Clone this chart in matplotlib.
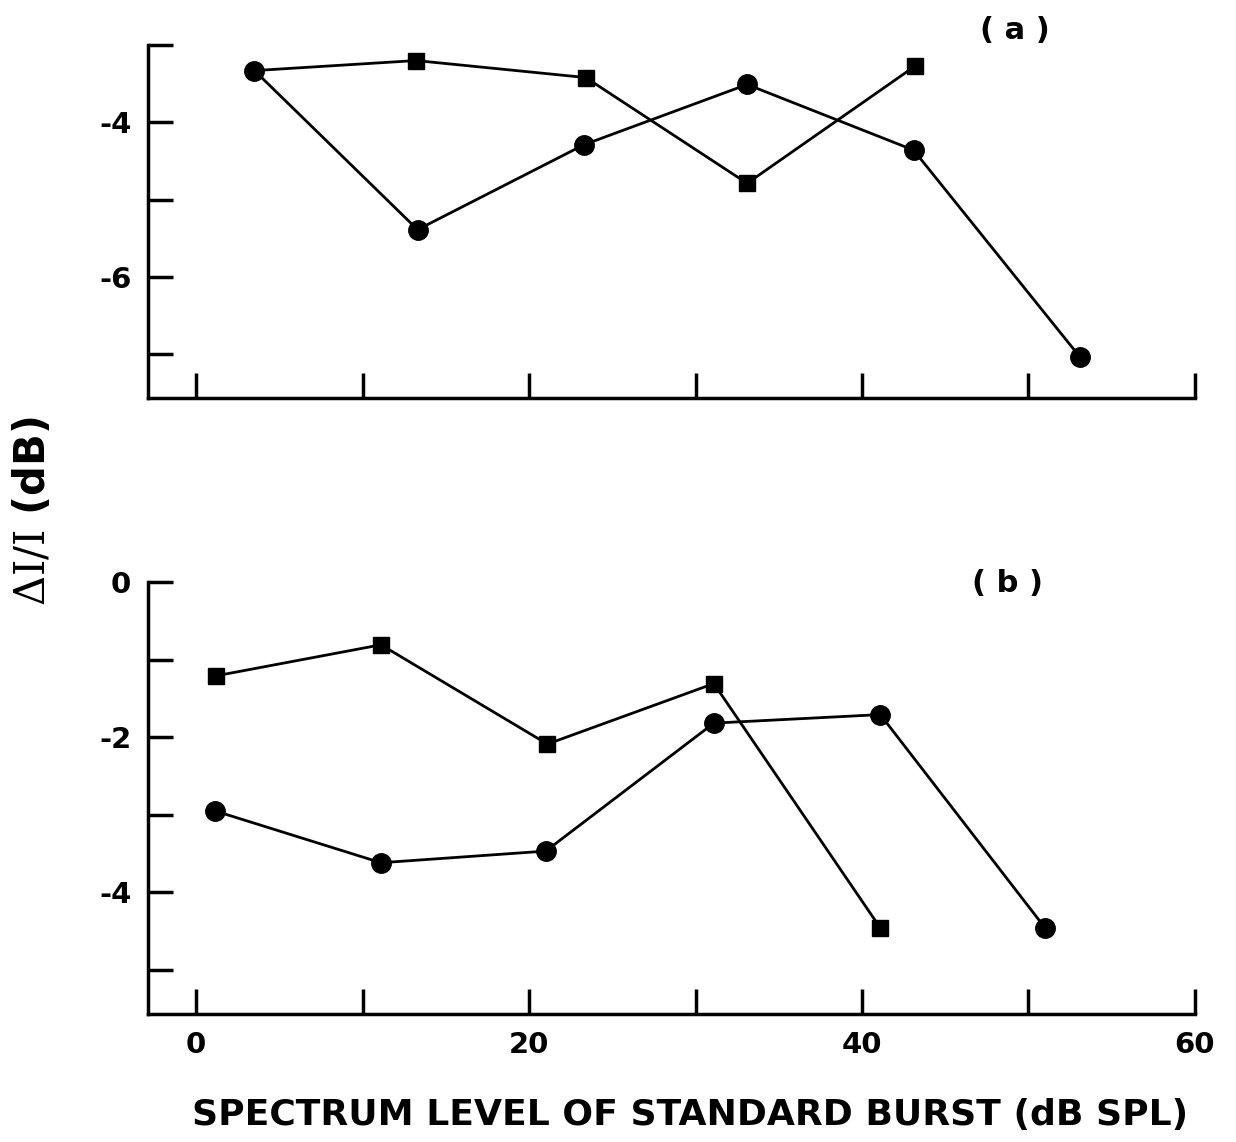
import numpy as np
import matplotlib.pyplot as plt

plt.rcParams['font.family'] = ['DejaVu Sans']
plt.rcParams['mathtext.fontset'] = 'dejavuserif'

# panel (a)
a_circ_x = [3.5, 13.3, 23.3, 33.1, 43.1, 53.1]
a_circ_y = [-3.33, -5.39, -4.29, -3.51, -4.36, -7.04]
a_sq_x = [3.5, 13.2, 23.4, 33.1, 43.2]
a_sq_y = [-3.33, -3.20, -3.42, -4.79, -3.27]

# panel (b)
b_sq_x = [1.2, 11.1, 21.1, 31.1, 41.1]
b_sq_y = [-1.21, -0.81, -2.09, -1.31, -4.46]
b_circ_x = [1.1, 11.1, 21.0, 31.1, 41.1, 51.0]
b_circ_y = [-2.95, -3.62, -3.47, -1.82, -1.71, -4.46]

fig = plt.figure(figsize=(12.36, 11.42), dpi=100)
ax1 = fig.add_axes([0.1197, 0.6515, 0.847, 0.309])
ax2 = fig.add_axes([0.1197, 0.1121, 0.847, 0.3783])

lw = 2.0
# square series first so the shared start point shows as a circle
ax1.plot(a_sq_x, a_sq_y, '-', color='black', lw=lw, marker='s', ms=11, markevery=[1, 2, 3, 4])
ax1.plot(a_circ_x, a_circ_y, '-', color='black', lw=lw, marker='o', ms=14)
ax2.plot(b_sq_x, b_sq_y, '-', color='black', lw=lw, marker='s', ms=11)
ax2.plot(b_circ_x, b_circ_y, '-', color='black', lw=lw, marker='o', ms=14)

for ax in (ax1, ax2):
    ax.set_xlim(-2.9, 60)
    ax.spines['top'].set_visible(False)
    ax.spines['right'].set_visible(False)
    ax.spines['left'].set_linewidth(2.5)
    ax.spines['bottom'].set_linewidth(2.5)
    ax.set_xticks([0, 10, 20, 30, 40, 50, 60])
    ax.tick_params(axis='x', direction='in', length=18, width=2.5, pad=12, labelsize=21)
    ax.tick_params(axis='y', direction='in', length=18, width=2.5, pad=12, labelsize=21)

ax1.set_ylim(-7.57, -3)
ax1.set_yticks([-3, -4, -5, -6, -7])
ax1.set_yticklabels(['', '-4', '', '-6', ''], fontweight='bold')
ax1.set_xticklabels([])

ax2.set_ylim(-5.57, 0)
ax2.set_yticks([0, -1, -2, -3, -4, -5])
ax2.set_yticklabels(['0', '', '-2', '', '-4', ''], fontweight='bold')
ax2.set_xticklabels(['0', '', '20', '', '40', '', '60'], fontweight='bold')

fig.text(0.821, 0.973, '( a )', ha='center', va='center', fontsize=22, fontweight='bold')
fig.text(0.815, 0.489, '( b )', ha='center', va='center', fontsize=22, fontweight='bold')

fig.text(0.027, 0.552, r'$\Delta\mathrm{I/I}$ (dB)', rotation=90, ha='center', va='center',
         fontsize=30, fontweight='bold')
fig.text(0.558, 0.024, 'SPECTRUM LEVEL OF STANDARD BURST (dB SPL)', ha='center', va='center',
         fontsize=26, fontweight='bold')

fig.savefig('out.png', dpi=100)
